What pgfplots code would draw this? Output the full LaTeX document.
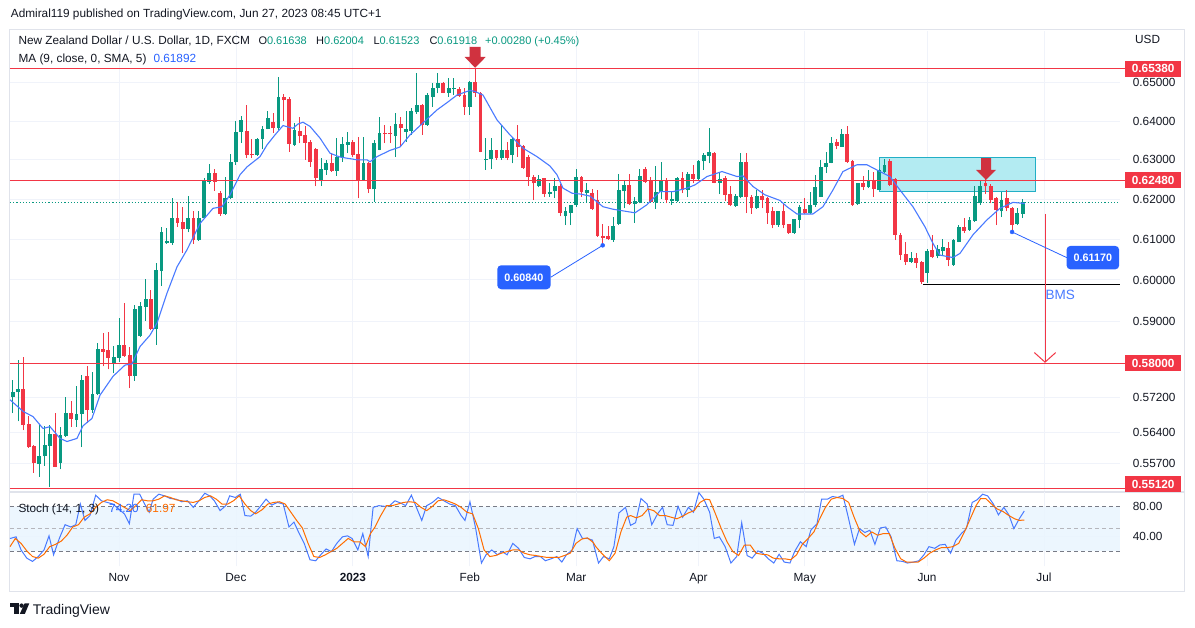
\documentclass[border=0pt]{standalone}
\usepackage{pgfplots}
\pgfplotsset{compat=1.18}
\usepackage{pgfplotstable}
\usepackage{fontspec}
\setmainfont{Liberation Sans}
\definecolor{tvgreen}{HTML}{089981}
\definecolor{tvred}{HTML}{F23645}
\definecolor{tvblue}{HTML}{2962FF}
\definecolor{tvorange}{HTML}{FF6D00}
\definecolor{tvtext}{HTML}{131722}
\definecolor{tvgrid}{HTML}{F0F3FA}
\definecolor{tvborder}{HTML}{E0E3EB}
\definecolor{arrowred}{HTML}{D0323F}
\definecolor{boxcyan}{HTML}{B3EBF2}
\definecolor{boxedge}{HTML}{22AFC6}
\definecolor{bandblue}{HTML}{E9F5FE}
\definecolor{dashgray}{HTML}{787B86}
\newcommand{\tvf}{\fontsize{11.8}{14}\selectfont}
\newcommand{\tvs}{\fontsize{11}{14}\selectfont}
\tikzset{
  pricelbl/.style={anchor=west, xshift=12.7pt, inner sep=0pt, text depth=0pt, font=\tvf, text=tvtext},
  redlbl/.style={anchor=west, xshift=5pt, fill=tvred, text=white, font=\tvf\bfseries, minimum width=56pt, minimum height=16pt, inner sep=0pt, text depth=0pt},
  datelbl/.style={anchor=base, yshift=-14.8pt, inner sep=0pt, font=\tvf, text=tvtext},
}
\pgfplotsset{
  candle/.style 2 args={draw=none, mark=none, forget plot,
    error bars/.cd, y dir=plus, y explicit, error mark=none,
    error bar style={draw=#1, solid, line width=#2}},
}

\pgfplotstableread{
i O H L C
0 0.5722 0.5761 0.5684 0.5734
1 0.5732 0.5808 0.5665 0.5740
5 0.5568 0.5657 0.5539 0.5586
6 0.5585 0.5655 0.5564 0.5611
7 0.5609 0.5657 0.5517 0.5636
9 0.5570 0.5653 0.5556 0.5634
10 0.5632 0.5722 0.5629 0.5684
12 0.5668 0.5746 0.5653 0.5682
13 0.5682 0.5773 0.5606 0.5761
15 0.5692 0.5781 0.5684 0.5729
16 0.5729 0.5848 0.5726 0.5834
19 0.5799 0.5841 0.5777 0.5815
20 0.5814 0.5908 0.5804 0.5844
23 0.5771 0.5939 0.5760 0.5929
24 0.5865 0.5947 0.5863 0.5937
25 0.5935 0.6002 0.5901 0.5953
27 0.5881 0.6042 0.5844 0.6024
28 0.6022 0.6131 0.5985 0.6119
29 0.6090 0.6127 0.6089 0.6096
30 0.6091 0.6204 0.6086 0.6152
33 0.6125 0.6208 0.6117 0.6152
35 0.6098 0.6169 0.6096 0.6152
36 0.6152 0.6253 0.6150 0.6249
37 0.6244 0.6290 0.6239 0.6266
40 0.6163 0.6256 0.6161 0.6203
41 0.6203 0.6315 0.6200 0.6294
42 0.6294 0.6400 0.6288 0.6372
43 0.6373 0.6413 0.6343 0.6403
46 0.6312 0.6355 0.6310 0.6353
47 0.6353 0.6386 0.6327 0.6379
48 0.6379 0.6426 0.6378 0.6408
50 0.6382 0.6514 0.6377 0.6462
53 0.6338 0.6396 0.6335 0.6377
58 0.6249 0.6304 0.6234 0.6276
59 0.6274 0.6300 0.6262 0.6293
61 0.6272 0.6355 0.6259 0.6308
62 0.6308 0.6360 0.6295 0.6341
63 0.6338 0.6373 0.6317 0.6347
66 0.6249 0.6358 0.6247 0.6293
68 0.6225 0.6351 0.6194 0.6344
69 0.6325 0.6411 0.6324 0.6370
72 0.6361 0.6420 0.6307 0.6392
74 0.6373 0.6425 0.6347 0.6378
75 0.6375 0.6433 0.6364 0.6425
76 0.6423 0.6527 0.6418 0.6442
78 0.6390 0.6472 0.6388 0.6468
79 0.6462 0.6501 0.6437 0.6486
80 0.6486 0.6525 0.6472 0.6501
82 0.6474 0.6513 0.6464 0.6486
83 0.6484 0.6513 0.6468 0.6487
86 0.6437 0.6506 0.6416 0.6503
89 0.6300 0.6357 0.6274 0.6303
90 0.6301 0.6357 0.6276 0.6325
92 0.6304 0.6390 0.6300 0.6325
94 0.6312 0.6360 0.6291 0.6353
99 0.6232 0.6262 0.6230 0.6251
101 0.6213 0.6240 0.6206 0.6219
102 0.6220 0.6253 0.6202 0.6232
104 0.6157 0.6181 0.6135 0.6169
105 0.6166 0.6186 0.6135 0.6186
106 0.6186 0.6278 0.6181 0.6257
108 0.6215 0.6242 0.6194 0.6222
113 0.6098 0.6156 0.6094 0.6133
114 0.6139 0.6264 0.6135 0.6222
115 0.6220 0.6249 0.6177 0.6236
117 0.6188 0.6205 0.6141 0.6196
118 0.6194 0.6276 0.6190 0.6259
121 0.6192 0.6284 0.6175 0.6219
122 0.6219 0.6295 0.6200 0.6249
124 0.6196 0.6219 0.6186 0.6200
125 0.6196 0.6257 0.6194 0.6253
127 0.6223 0.6270 0.6205 0.6264
129 0.6251 0.6300 0.6249 0.6298
130 0.6296 0.6317 0.6274 0.6312
131 0.6310 0.6381 0.6291 0.6319
133 0.6242 0.6270 0.6213 0.6251
136 0.6183 0.6213 0.6181 0.6208
137 0.6205 0.6317 0.6202 0.6295
140 0.6177 0.6223 0.6175 0.6208
144 0.6135 0.6169 0.6131 0.6169
147 0.6116 0.6150 0.6114 0.6150
148 0.6148 0.6186 0.6127 0.6181
150 0.6166 0.6219 0.6163 0.6186
151 0.6186 0.6262 0.6181 0.6230
152 0.6205 0.6300 0.6205 0.6281
153 0.6281 0.6319 0.6266 0.6293
154 0.6293 0.6360 0.6291 0.6344
156 0.6334 0.6379 0.6334 0.6367
159 0.6188 0.6242 0.6186 0.6242
161 0.6230 0.6274 0.6228 0.6249
163 0.6223 0.6276 0.6222 0.6274
164 0.6270 0.6302 0.6266 0.6287
169 0.6045 0.6069 0.6042 0.6053
172 0.6018 0.6077 0.5993 0.6072
174 0.6058 0.6086 0.6053 0.6075
175 0.6070 0.6100 0.6059 0.6081
177 0.6037 0.6100 0.6035 0.6098
178 0.6094 0.6135 0.6092 0.6130
180 0.6123 0.6156 0.6121 0.6148
181 0.6146 0.6234 0.6144 0.6208
182 0.6190 0.6249 0.6186 0.6232
186 0.6169 0.6219 0.6155 0.6198
189 0.6138 0.6177 0.6135 0.6166
190 0.61638 0.62004 0.61523 0.61918
}\greencandles

\pgfplotstableread{
i O H L C
2 0.5740 0.5816 0.5645 0.5657
3 0.5659 0.5678 0.5604 0.5606
4 0.5609 0.5611 0.5548 0.5570
8 0.5636 0.5685 0.5561 0.5562
11 0.5684 0.5711 0.5653 0.5670
14 0.5771 0.5794 0.5662 0.5692
17 0.5834 0.5872 0.5793 0.5828
18 0.5831 0.5875 0.5786 0.5814
21 0.5844 0.5945 0.5816 0.5818
22 0.5820 0.5840 0.5742 0.5771
26 0.5953 0.5976 0.5878 0.5881
31 0.6152 0.6194 0.6131 0.6141
32 0.6142 0.6181 0.6067 0.6126
34 0.6152 0.6169 0.6089 0.6098
38 0.6266 0.6278 0.6221 0.6244
39 0.6215 0.6221 0.6158 0.6163
44 0.6374 0.6442 0.6304 0.6312
45 0.6316 0.6353 0.6304 0.6311
49 0.6398 0.6420 0.6370 0.6381
51 0.6462 0.6470 0.6400 0.6455
52 0.6458 0.6462 0.6321 0.6340
54 0.6375 0.6411 0.6343 0.6361
55 0.6363 0.6386 0.6300 0.6344
56 0.6347 0.6351 0.6282 0.6295
57 0.6327 0.6330 0.6232 0.6253
60 0.6293 0.6317 0.6270 0.6272
64 0.6347 0.6351 0.6308 0.6312
65 0.6315 0.6360 0.6202 0.6249
67 0.6293 0.6295 0.6215 0.6225
70 0.6370 0.6390 0.6343 0.6367
71 0.6370 0.6386 0.6343 0.6366
73 0.6392 0.6411 0.6334 0.6381
77 0.6442 0.6444 0.6364 0.6390
81 0.6501 0.6503 0.6472 0.6474
84 0.6483 0.6490 0.6464 0.6466
85 0.6468 0.6486 0.6416 0.6437
87 0.6503 0.6538 0.6464 0.6472
88 0.6473 0.6477 0.6319 0.6321
91 0.6325 0.6326 0.6300 0.6304
93 0.6325 0.6346 0.6299 0.6304
95 0.6353 0.6390 0.6308 0.6334
96 0.6336 0.6338 0.6278 0.6280
97 0.6308 0.6312 0.6234 0.6257
98 0.6257 0.6262 0.6198 0.6240
100 0.6253 0.6253 0.6205 0.6213
103 0.6232 0.6238 0.6157 0.6166
107 0.6257 0.6259 0.6206 0.6219
109 0.6215 0.6225 0.6173 0.6175
110 0.6197 0.6223 0.6106 0.6108
111 0.6108 0.6138 0.6085 0.6104
112 0.6108 0.6133 0.6098 0.6100
116 0.6236 0.6264 0.6186 0.6188
119 0.6278 0.6281 0.6242 0.6244
120 0.6249 0.6257 0.6192 0.6194
123 0.6249 0.6253 0.6190 0.6198
126 0.6253 0.6270 0.6215 0.6223
128 0.6264 0.6287 0.6240 0.6251
132 0.6317 0.6319 0.6240 0.6242
134 0.6253 0.6259 0.6196 0.6211
135 0.6213 0.6234 0.6183 0.6185
138 0.6295 0.6317 0.6165 0.6205
139 0.6205 0.6211 0.6163 0.6177
141 0.6208 0.6223 0.6177 0.6198
142 0.6202 0.6205 0.6139 0.6166
143 0.6169 0.6181 0.6127 0.6135
145 0.6169 0.6190 0.6127 0.6135
146 0.6138 0.6139 0.6114 0.6115
149 0.6175 0.6202 0.6163 0.6166
155 0.6347 0.6353 0.6327 0.6336
157 0.6367 0.6386 0.6293 0.6295
158 0.6298 0.6300 0.6183 0.6186
160 0.6240 0.6259 0.6223 0.6230
162 0.6249 0.6270 0.6206 0.6225
165 0.6298 0.6302 0.6234 0.6236
166 0.6251 0.6253 0.6098 0.6111
167 0.6111 0.6115 0.6049 0.6061
168 0.6063 0.6094 0.6037 0.6045
170 0.6053 0.6067 0.6029 0.6042
171 0.6045 0.6047 0.5990 0.5996
173 0.6074 0.6111 0.6053 0.6056
176 0.6078 0.6092 0.6033 0.6049
179 0.6130 0.6152 0.6115 0.6121
183 0.6242 0.6251 0.6213 0.6232
184 0.6232 0.6238 0.6190 0.6198
185 0.6202 0.6207 0.6135 0.6173
187 0.6202 0.6223 0.6169 0.6177
188 0.6177 0.6181 0.6117 0.6135
}\redcandles

\begin{document}
\begin{tikzpicture}
\path[fill=white] (0,0) rectangle (1195pt,627pt);
% frame
\draw[tvborder, line width=1pt] (9.3pt,35.3pt) rectangle (1184.3pt,597.3pt);
\draw[tvborder, line width=1.5pt] (9.3pt,135pt) -- (1184.3pt,135pt);

\begin{axis}[
  at={(10pt,136pt)}, anchor=south west, scale only axis,
  width=1110pt, height=460pt,
  xmin=-0.51, xmax=208.3, ymode=log, ymin=0.55072, ymax=0.66386,
  axis line style={draw=none}, major tick length=0pt,
  xtick={20,42,64,86,106,129,149,172,194}, xticklabels={},
  ytick={0.557,0.564,0.572,0.58,0.59,0.6,0.61,0.62,0.63,0.64,0.65}, yticklabels={},
  xmajorgrids, ymajorgrids, grid style={color=tvgrid, line width=0.9pt},
  clip=false,
]
% support / resistance zone
\addplot[fill=boxcyan, draw=boxedge, line width=0.8pt] coordinates {(163.1,0.6219)(192.3,0.6219)(192.3,0.6307)(163.1,0.6307)(163.1,0.6219)};
% current price line
\addplot[tvgreen, line width=1pt, dash pattern=on 1.2pt off 2pt] coordinates {(-0.51,0.61918)(208.3,0.61918)};
% candle wicks
\addplot[candle={tvgreen}{1pt}] table[x=i, y=L, y error plus expr=\thisrow{H}-\thisrow{L}] {\greencandles};
\addplot[candle={tvred}{1pt}] table[x=i, y=L, y error plus expr=\thisrow{H}-\thisrow{L}] {\redcandles};
% candle bodies
\addplot[candle={tvgreen}{3.8pt}] table[x=i, y=O, y error plus expr=\thisrow{C}-\thisrow{O}] {\greencandles};
\addplot[candle={tvred}{3.8pt}] table[x=i, y=C, y error plus expr=\thisrow{O}-\thisrow{C}] {\redcandles};
% horizontal levels
\addplot[tvred, line width=1pt] coordinates {(-0.51,0.6538)(209.2,0.6538)};
\addplot[tvred, line width=1pt] coordinates {(-0.51,0.6248)(209.2,0.6248)};
\addplot[tvred, line width=1pt] coordinates {(-0.51,0.5800)(209.2,0.5800)};
\addplot[tvred, line width=1pt] coordinates {(-0.51,0.5512)(209.2,0.5512)};
\addplot[black, line width=1pt] coordinates {(171.2,0.5990)(208.3,0.5990)};
% moving average
\addplot[tvblue!85, line width=1.1pt] coordinates {
(-0.5,0.5715)(1.94,0.5688)(3.82,0.5676)(5.70,0.5649)(7.02,0.5653)(8.90,0.5626)(10.21,0.5619)(12.09,0.5626)(13.22,0.5655)(14.91,0.5672)(16.42,0.5726)(18.87,0.5770)(21.12,0.5796)(22.44,0.5799)(23.95,0.5840)(25.83,0.5867)(27.14,0.5896)(29.03,0.5968)(30.91,0.6032)(32.79,0.6074)(35.23,0.6139)(37.68,0.6177)(39.37,0.6181)(40.88,0.6211)(42.76,0.6262)(44.08,0.6282)(46.52,0.6308)(47.84,0.6338)(49.34,0.6364)(50.85,0.6388)(52.73,0.6381)(53.67,0.6392)(54.61,0.6397)(55.93,0.6386)(57.81,0.6356)(59.69,0.6317)(61.57,0.6307)(64.77,0.6300)(66.65,0.6300)(67.21,0.6295)(68.53,0.6308)(70.98,0.6324)(72.86,0.6333)(74.74,0.6364)(77.19,0.6395)(79.82,0.6429)(81.70,0.6448)(83.58,0.6468)(86.03,0.6480)(86.97,0.6477)(88.47,0.6468)(91.10,0.6403)(93.55,0.6364)(95.99,0.6330)(98.63,0.6308)(101.07,0.6284)(102.39,0.6262)(103.52,0.6228)(105.21,0.6215)(106.72,0.6213)(108.60,0.6208)(111.04,0.6181)(112.92,0.6175)(117.06,0.6166)(119.32,0.6186)(121.76,0.6219)(124.21,0.6219)(126.84,0.6228)(128.35,0.6236)(130.60,0.6257)(133.43,0.6270)(136.25,0.6257)(137.38,0.6259)(139.26,0.6232)(141.51,0.6211)(144.33,0.6197)(145.65,0.6181)(147.53,0.6163)(150.54,0.6163)(152.42,0.6181)(154.30,0.6223)(156.18,0.6270)(158.82,0.6287)(160.70,0.6287)(163.14,0.6270)(165.03,0.6257)(166.91,0.6223)(169.35,0.6181)(171.61,0.6131)(173.11,0.6090)(174.43,0.6061)(176.88,0.6055)(178.19,0.6065)(180.64,0.6111)(183.27,0.6148)(185.72,0.6177)(188.16,0.6192)(190.42,0.6189)};
% down arrows
\addplot[fill=arrowred, draw=none] coordinates {(85.97,0.65956)(88.03,0.65956)(88.03,0.65688)(88.98,0.65688)(87.0,0.65396)(85.02,0.65688)(85.97,0.65688)(85.97,0.65956)};
\addplot[fill=arrowred, draw=none] coordinates {(182.16,0.6304)(184.04,0.6304)(184.04,0.6274)(184.98,0.6274)(183.1,0.6249)(181.22,0.6274)(182.16,0.6274)(182.16,0.6304)};
% projection arrow
\addplot[tvred, line width=1pt] coordinates {(194.2,0.6163)(194.2,0.5803)};
\addplot[tvred, line width=1pt] coordinates {(192.2,0.58255)(194.2,0.5803)(196.2,0.58255)};
% callouts
\addplot[tvblue, line width=0.8pt] coordinates {(101.2,0.60068)(110.99,0.6085)};
\addplot[tvblue, line width=0.8pt] coordinates {(188,0.6118)(198.3,0.60546)};
\addplot[only marks, mark=*, mark size=2pt, tvblue] coordinates {(110.99,0.6085)(188,0.6118)};
\node[fill=tvblue, rounded corners=4pt, text=white, font=\fontsize{10.8}{12}\selectfont\bfseries, minimum width=53.4pt, minimum height=24pt, inner sep=0pt, text depth=0pt] at (axis cs:96.18,0.60068) {0.60840};
\node[fill=tvblue, rounded corners=4pt, text=white, font=\fontsize{10.8}{12}\selectfont\bfseries, minimum width=52.6pt, minimum height=23.5pt, inner sep=0pt, text depth=0pt] at (axis cs:203.2,0.60546) {0.61170};
\node[anchor=west, inner sep=0pt, xshift=0.3pt, text=tvblue!85, font=\fontsize{13.5}{15}\selectfont] at (axis cs:194.2,0.59648) {BMS};
% price scale
\node[pricelbl] at (axis cs:208.3,0.65) {0.65000};
\node[pricelbl] at (axis cs:208.3,0.64) {0.64000};
\node[pricelbl] at (axis cs:208.3,0.63) {0.63000};
\node[pricelbl] at (axis cs:208.3,0.62) {0.62000};
\node[pricelbl] at (axis cs:208.3,0.61) {0.61000};
\node[pricelbl] at (axis cs:208.3,0.60) {0.60000};
\node[pricelbl] at (axis cs:208.3,0.59) {0.59000};
\node[pricelbl] at (axis cs:208.3,0.572) {0.57200};
\node[pricelbl] at (axis cs:208.3,0.564) {0.56400};
\node[pricelbl] at (axis cs:208.3,0.557) {0.55700};
\node[redlbl] at (axis cs:208.3,0.6538) {0.65380};
\node[redlbl] at (axis cs:208.3,0.6248) {0.62480};
\node[redlbl] at (axis cs:208.3,0.5800) {0.58000};
\node[redlbl] at (axis cs:208.3,0.55229) {0.55120};
\end{axis}

\begin{axis}[
  at={(10pt,60.5pt)}, anchor=south west, scale only axis,
  width=1110pt, height=74.2pt,
  xmin=-0.51, xmax=208.3, ymin=-1, ymax=99.5,
  axis line style={draw=none}, major tick length=0pt,
  xtick={20,42,64,86,106,129,149,172,194}, xticklabels={},
  ytick={40}, yticklabels={},
  xmajorgrids, ymajorgrids, grid style={color=tvgrid, line width=0.9pt},
  clip=false,
]
\addplot[fill=bandblue, fill opacity=0.85, draw=none] coordinates {(-0.51,20)(208.3,20)(208.3,80)(-0.51,80)(-0.51,20)};
\addplot[dashgray, line width=0.8pt, dash pattern=on 4pt off 3pt] coordinates {(-0.51,80)(208.3,80)};
\addplot[dashgray!55, line width=0.8pt, dash pattern=on 4pt off 3pt] coordinates {(-0.51,50)(208.3,50)};
\addplot[dashgray, line width=0.8pt, dash pattern=on 4pt off 3pt] coordinates {(-0.51,20)(208.3,20)};
% %K
\addplot[tvblue!85, line width=1pt] coordinates {
(-0.51,36.9)(0.63,39.2)(1.57,21.4)(2.65,10.3)(3.73,5.9)(4.81,12.5)(5.89,21.4)(6.83,40.5)(7.69,14.8)(8.77,37.0)(9.85,55.6)(10.93,52.5)(11.86,55.6)(12.73,83.6)(13.59,61.4)(14.53,68.0)(15.61,95.6)(16.69,88.0)(17.77,85.8)(18.85,83.6)(19.93,76.9)(21.01,70.3)(21.94,56.9)(22.81,96.9)(23.89,96.9)(24.82,83.6)(25.69,72.5)(26.41,90.2)(27.49,96.9)(28.57,94.7)(29.65,91.1)(30.73,90.2)(31.81,86.7)(32.89,88.0)(33.97,79.1)(35.05,88.0)(36.13,98.2)(37.06,94.7)(37.93,88.0)(39.01,74.7)(40.09,81.4)(40.81,94.7)(41.89,92.5)(42.82,96.9)(43.69,68.0)(44.77,67.2)(45.70,72.5)(46.71,81.4)(47.65,90.2)(48.73,82.2)(49.81,85.8)(50.89,83.6)(51.97,52.5)(52.90,59.2)(53.76,45.8)(54.84,30.3)(55.92,8.1)(57.00,6.8)(57.94,14.8)(58.95,22.8)(59.96,19.2)(60.96,30.3)(62.04,39.2)(62.98,40.5)(63.84,37.0)(64.92,21.4)(65.86,43.6)(66.87,12.5)(67.80,79.1)(68.88,81.4)(69.96,80.5)(70.90,81.4)(71.91,88.0)(72.99,84.9)(73.93,81.4)(75.00,95.6)(75.94,79.1)(76.95,61.4)(77.88,81.4)(78.96,85.8)(80.04,92.5)(81.12,88.0)(82.20,83.6)(83.28,81.4)(84.36,68.0)(85.08,61.4)(86.02,86.7)(87.10,50.3)(88.18,3.7)(89.04,14.8)(90.12,21.4)(91.20,14.8)(92.07,19.2)(93.00,14.8)(94.08,30.3)(95.16,23.6)(96.24,11.2)(97.32,9.4)(98.26,12.5)(99.27,12.5)(100.20,6.8)(101.28,9.4)(102.36,12.5)(103.30,5.0)(104.16,14.8)(105.24,21.4)(106.18,50.3)(107.18,37.0)(108.12,37.0)(109.06,34.7)(110.20,3.7)(111.14,12.5)(112.23,9.4)(113.10,25.9)(114.05,71.6)(115.28,79.1)(116.23,54.7)(117.17,58.3)(118.19,91.1)(119.35,83.6)(120.22,55.6)(121.31,70.3)(122.25,79.1)(123.12,55.6)(124.21,54.7)(125.16,80.5)(126.03,65.8)(127.12,79.1)(128.06,72.5)(129.08,99.1)(130.02,90.2)(131.11,72.5)(131.98,37.0)(132.93,39.2)(134.02,25.9)(135.11,3.7)(136.20,12.5)(137.14,58.3)(138.16,13.9)(139.10,10.3)(140.19,20.1)(141.13,17.0)(142.15,9.4)(143.17,3.7)(144.18,15.6)(145.13,5.0)(146.22,3.7)(147.09,19.2)(148.18,32.5)(149.27,25.9)(150.14,48.1)(151.30,56.9)(152.17,90.2)(153.26,90.2)(154.21,93.8)(155.22,92.5)(156.17,95.6)(157.11,68.0)(158.35,29.0)(159.29,50.3)(160.31,45.0)(161.25,48.1)(162.20,29.0)(163.21,51.2)(164.23,52.5)(165.24,39.2)(166.33,6.8)(167.42,5.9)(168.30,3.7)(169.46,5.0)(170.47,6.8)(171.42,14.8)(172.36,25.9)(173.45,23.6)(174.39,28.1)(175.41,29.0)(176.43,17.0)(177.44,34.7)(178.46,43.6)(179.41,50.3)(180.50,85.8)(181.44,89.4)(182.46,96.9)(183.40,94.7)(184.49,83.6)(185.43,68.9)(186.45,79.1)(187.40,68.9)(188.34,50.3)(189.36,63.6)(190.30,74.2)};
% %D
\addplot[tvorange, line width=1pt] coordinates {
(-0.51,25.9)(0.49,36.9)(1.57,30.3)(2.65,20.1)(3.73,12.5)(4.81,10.3)(5.89,15.6)(6.97,25.9)(8.05,29.0)(9.13,33.4)(10.21,41.4)(11.29,52.5)(12.37,55.6)(13.45,65.8)(14.53,70.3)(15.61,79.1)(16.69,85.8)(17.77,89.4)(18.85,88.0)(19.93,83.6)(21.01,79.1)(22.09,74.7)(23.17,81.4)(24.25,89.4)(25.33,88.0)(26.41,88.0)(27.49,90.2)(28.57,94.7)(29.65,92.5)(30.73,89.4)(31.81,88.0)(32.89,86.7)(33.97,85.8)(35.05,88.0)(36.13,92.5)(37.21,94.7)(38.29,90.2)(39.37,83.6)(40.45,83.6)(41.53,88.0)(42.61,94.7)(43.69,83.6)(44.77,74.7)(45.70,70.3)(46.93,76.0)(48.01,83.6)(49.09,85.8)(50.17,86.7)(51.25,83.6)(52.33,72.5)(53.41,61.4)(54.49,51.2)(55.57,30.3)(56.65,12.5)(57.73,11.2)(58.81,14.8)(59.88,19.2)(60.96,23.6)(62.04,30.3)(63.12,37.0)(64.20,32.5)(65.28,32.5)(66.36,25.9)(67.30,43.6)(68.16,52.5)(69.24,68.0)(70.32,81.4)(71.40,81.4)(72.48,83.6)(73.56,85.8)(74.64,86.7)(75.72,85.8)(76.80,79.1)(77.88,74.7)(78.96,80.5)(80.04,88.0)(81.12,89.4)(82.20,86.7)(83.28,83.6)(84.36,79.1)(85.44,72.5)(86.52,70.3)(87.60,50.3)(88.68,21.4)(89.76,12.5)(90.84,13.9)(91.92,17.0)(93.00,19.2)(94.08,21.4)(95.16,21.4)(96.24,17.0)(97.32,14.8)(98.40,13.9)(99.48,12.5)(100.56,11.2)(101.64,11.2)(102.72,11.2)(103.80,13.9)(104.88,17.0)(105.96,30.3)(107.04,36.1)(108.12,37.8)(109.20,31.6)(109.69,25.9)(110.78,17.0)(112.23,6.8)(113.32,17.0)(114.41,45.8)(115.50,65.8)(116.23,68.0)(117.31,64.9)(118.40,68.0)(119.49,76.9)(120.58,74.7)(121.67,68.0)(122.76,68.0)(123.85,65.8)(124.94,63.6)(126.03,67.2)(127.12,71.6)(128.21,74.7)(129.30,85.8)(130.39,90.2)(131.11,89.4)(132.20,70.3)(133.29,50.3)(134.38,32.5)(135.47,19.2)(136.56,13.9)(137.65,28.1)(138.74,28.1)(139.83,17.0)(140.92,15.6)(142.01,14.8)(143.10,10.3)(144.18,9.4)(145.27,9.4)(146.36,8.1)(147.45,14.8)(148.54,29.0)(149.63,37.0)(150.72,45.8)(151.81,63.6)(152.90,79.1)(153.99,90.2)(155.08,92.5)(156.17,91.1)(157.26,85.8)(158.35,64.5)(159.44,45.8)(160.52,39.2)(161.61,45.8)(162.70,41.4)(163.79,43.6)(164.88,43.6)(165.97,23.6)(167.06,9.4)(168.15,5.0)(169.24,5.0)(170.33,5.0)(171.42,10.3)(172.51,17.0)(173.60,21.4)(174.69,24.5)(175.78,24.5)(176.86,25.9)(177.95,30.3)(179.04,45.8)(180.13,63.6)(181.22,81.4)(182.09,91.1)(183.04,91.1)(184.13,83.6)(185.22,76.9)(186.31,73.4)(187.40,68.0)(188.49,63.6)(189.36,61.4)(190.30,61.97)};
\node[pricelbl] at (axis cs:208.3,80) {80.00};
\node[pricelbl] at (axis cs:208.3,40) {40.00};
\node[datelbl] at (axis cs:20,-1) {Nov};
\node[datelbl] at (axis cs:42,-1) {Dec};
\node[datelbl] at (axis cs:64,-1) {\bfseries 2023};
\node[datelbl] at (axis cs:86,-1) {Feb};
\node[datelbl] at (axis cs:106,-1) {Mar};
\node[datelbl] at (axis cs:129,-1) {Apr};
\node[datelbl] at (axis cs:149,-1) {May};
\node[datelbl] at (axis cs:172,-1) {Jun};
\node[datelbl] at (axis cs:194,-1) {Jul};
\end{axis}

% header texts
\begin{scope}[every node/.style={anchor=base west, inner sep=0pt, font=\tvf, text=tvtext}]
\node at (10.7pt,609pt) {Admiral119 published on TradingView.com, Jun 27, 2023 08:45 UTC+1};
\node at (18.4pt,582pt) {New Zealand Dollar / U.S. Dollar, 1D, FXCM};
\node[font=\tvs] at (258.3pt,582pt) {O\textcolor{tvgreen}{0.61638}};
\node[font=\tvs] at (316pt,582pt) {H\textcolor{tvgreen}{0.62004}};
\node[font=\tvs] at (373.3pt,582pt) {L\textcolor{tvgreen}{0.61523}};
\node[font=\tvs] at (429.3pt,582pt) {C\textcolor{tvgreen}{0.61918}};
\node[font=\tvs, text=tvgreen] at (485pt,582pt) {+0.00280 (+0.45\%)};
\node at (18.4pt,564pt) {MA (9, close, 0, SMA, 5)};
\node[text=tvblue] at (153.3pt,564pt) {0.61892};
\node at (1135pt,583pt) {USD};
\node at (18.3pt,114.5pt) {Stoch (14, 1, 3)};
\node[text=tvblue] at (109pt,114.5pt) {74.20};
\node[text=tvorange] at (145.7pt,114.5pt) {61.97};
\node[font=\fontsize{14}{16}\selectfont] at (32.7pt,12.7pt) {TradingView};
\end{scope}
% logo
\fill[tvtext] (10pt,20pt) rectangle (18.5pt,23.7pt);
\fill[tvtext] (14.3pt,13pt) rectangle (18.5pt,23.7pt);
\fill[tvtext] (21.6pt,21.4pt) circle (2.2pt);
\fill[tvtext] (24.6pt,23.7pt) -- (29.3pt,23.7pt) -- (24.8pt,13pt) -- (19.8pt,13pt) -- cycle;
\end{tikzpicture}
\end{document}
